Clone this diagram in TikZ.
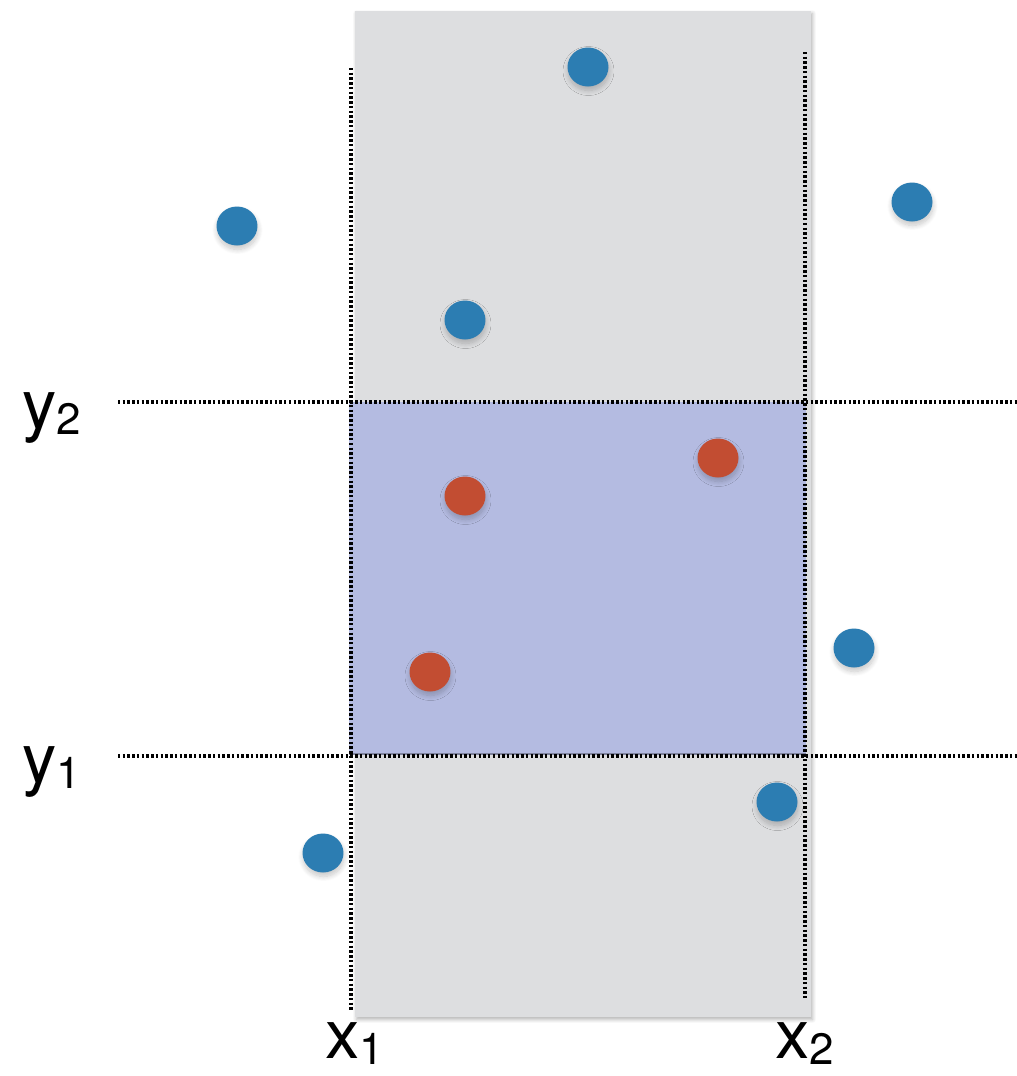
\documentclass[tikz,border=0pt]{standalone}
\usepackage{fontspec}
\setmainfont{TeX Gyre Heros}
\usetikzlibrary{shapes.geometric,shadows.blur}
\definecolor{band}{RGB}{221,222,224}
\definecolor{query}{RGB}{180,187,225}
\definecolor{ptblue}{RGB}{44,125,178}
\definecolor{ptred}{RGB}{194,77,50}
\newcommand\lowsub[1]{\raisebox{-0.1em}{\fontsize{25}{25}\selectfont #1}}
\tikzset{
  pt/.style={ellipse,inner sep=0,minimum width=8.2mm,minimum height=7.8mm,fill=#1,
    blur shadow={shadow xshift=0.1mm,shadow yshift=-0.8mm,shadow blur radius=1mm,shadow blur steps=10,shadow opacity=22}},
  bound/.style={line width=2pt,dash pattern=on 1.4pt off 1.3pt},
  lbl/.style={inner sep=0,anchor=base west,font=\fontsize{39}{39}\selectfont}
}

\begin{document}
\begin{tikzpicture}[x=0.02cm,y=-0.02cm]
\useasboundingbox (0,0) rectangle (1017,1076);
% slab between x1 and x2
\fill[band,blur shadow={shadow xshift=0.3mm,shadow yshift=-0.5mm,shadow blur steps=6,shadow opacity=30}] (355,11) rectangle (811,1017);
% query rectangle
\fill[query] (349,402) rectangle (806,755);
\draw[query!70!black,line width=0.6pt] (349,754) -- (806,754);
% bounds
\coordinate (y2a) at (118,402); \coordinate (y2b) at (1017,402);
\coordinate (y1a) at (118,756); \coordinate (y1b) at (1017,756);
\coordinate (x1a) at (351,68);  \coordinate (x1b) at (351,1010);
\coordinate (x2a) at (805,52);  \coordinate (x2b) at (805,998);
\foreach \a/\b in {y2a/y2b,y1a/y1b,x1a/x1b,x2a/x2b} \draw[bound] (\a) -- (\b);
% points
\foreach \n/\x/\y in {b1/588/67,b2/237/226,b3/912/202,b4/465/320,b5/854/648,b6/777/802,b7/323/853}
  \node[pt=ptblue] (\n) at (\x,\y) {};
\foreach \n/\x/\y in {r1/718/458,r2/465/496,r3/430/672}
  \node[pt=ptred] (\n) at (\x,\y) {};
% labels
\node[lbl] (ly2) at (22,428) {y\lowsub{2}};
\node[lbl] (ly1) at (22,782) {y\lowsub{1}};
\node[lbl] (lx1) at (325,1058) {x\lowsub{1}};
\node[lbl] (lx2) at (775,1058) {x\lowsub{2}};
\end{tikzpicture}
\end{document}
